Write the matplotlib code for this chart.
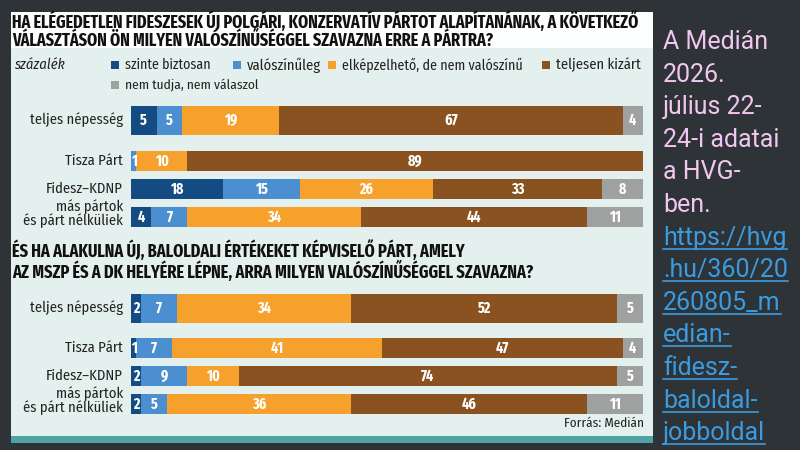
import matplotlib
matplotlib.use("Agg")
import matplotlib.pyplot as plt
from matplotlib import font_manager
from matplotlib.patches import Rectangle
from matplotlib.lines import Line2D
import numpy as np

# Adatok
kategoriak = ["szinte biztosan", "valószínűleg", "elképzelhető, de nem valószínű",
              "teljesen kizárt", "nem tudja, nem válaszol"]
szinek = ["#134b82", "#4b8fd1", "#f5a12b", "#8a5220", "#9fa0a0"]

csoportok = ["teljes népesség", "Tisza Párt", "Fidesz–KDNP", "más pártok\nés párt nélküliek"]

# 1. kérdés: új polgári, konzervatív párt
jobb_ertekek = [
    [5, 5, 19, 67, 4],
    [0, 1, 10, 89, 0],
    [18, 15, 26, 33, 8],
    [4, 7, 34, 44, 11],
]
# 2. kérdés: új baloldali párt
bal_ertekek = [
    [2, 7, 34, 52, 5],
    [1, 7, 41, 47, 4],
    [2, 9, 10, 74, 5],
    [2, 5, 36, 46, 11],
]

cim1 = ["HA ELÉGEDETLEN FIDESZESEK ÚJ POLGÁRI, KONZERVATÍV PÁRTOT ALAPÍTANÁNAK, A KÖVETKEZŐ",
        "VÁLASZTÁSON ÖN MILYEN VALÓSZÍNŰSÉGGEL SZAVAZNA ERRE A PÁRTRA?"]
cim2 = ["ÉS HA ALAKULNA ÚJ, BALOLDALI ÉRTÉKEKET KÉPVISELŐ PÁRT, AMELY",
        "AZ MSZP ÉS A DK HELYÉRE LÉPNE, ARRA MILYEN VALÓSZÍNŰSÉGGEL SZAVAZNA?"]

jegyzet = ["A Medián", "2026.", "július 22-", "24-i adatai", "a HVG-", "ben."]
link = ["https://hvg", ".hu/360/20", "260805_m", "edian-", "fidesz-", "baloldal-", "jobboldal"]


def van_font(nev):
    try:
        font_manager.findfont(nev, fallback_to_default=False)
        return True
    except Exception:
        return False


def elso(jeloltek, alap="DejaVu Sans"):
    return next((n for n in jeloltek if van_font(n)), alap)


keskeny = dict(family=elso(["Fira Sans Condensed", "Roboto Condensed", "Barlow Semi Condensed",
                            "PT Sans Narrow", "Archivo Narrow", "Liberation Sans Narrow"]))
cim_font = dict(family=elso(["Fira Sans Extra Condensed", "Fira Sans Condensed",
                             "Roboto Condensed", "Barlow Condensed", "PT Sans Narrow",
                             "Liberation Sans Narrow"]))
jobb_font = elso(["Roboto"])

W, H = 800, 450
fig = plt.figure(figsize=(8, 4.5), dpi=100, facecolor="#2d3336")
r = fig.canvas.get_renderer()


def fx(x):
    return x / W


def fy(y):
    return 1 - y / H


def doboz(x0, y0, x1, y1, szin, z=0):
    fig.patches.append(Rectangle((fx(x0), fy(y1)), fx(x1 - x0), (y1 - y0) / H,
                                 transform=fig.transFigure, facecolor=szin,
                                 edgecolor="none", zorder=z))


def illeszt(t, szelesseg, csak_kicsinyit=True):
    """ A szöveg betűméretét a kívánt szélességhez igazítja """
    bb = t.get_window_extent(r)
    if bb.width > szelesseg or not csak_kicsinyit:
        t.set_fontsize(t.get_fontsize() * szelesseg / bb.width)


# Panel hátterek
doboz(11, 12, 653, 436, "#e4f0ee")
doboz(11, 12, 653, 48, "#fdfefe")
doboz(11, 436, 653, 443, "#4fa3a5")

# Címek: a leghosszabb sor szélességéhez igazított betűméret, két soros szöveg
for sorok, y, szel in [(cim1, 30, 629), (cim2, 260.5, 521)]:
    t = fig.text(fx(12), fy(y), "\n".join(sorok), fontsize=12, fontweight="bold",
                 color="#111111", va="center", ha="left", linespacing=1.0, **cim_font)
    illeszt(t, szel, csak_kicsinyit=False)

# Jelmagyarázat
fig.text(fx(14), fy(65), "százalék", fontsize=10.5, style="italic",
         color="#222222", va="center", **keskeny)
jel_pos = [(111, 65), (233, 65), (328, 65), (542, 65), (111, 85)]
jel_szel = [86, 78, 180, 87, 133]
for (x, y), nev, c, sz in zip(jel_pos, kategoriak, szinek, jel_szel):
    doboz(x, y - 4, x + 8, y + 4, c)
    t = fig.text(fx(x + 14), fy(y), nev, fontsize=10.5, color="#222222",
                 va="center", **keskeny)
    illeszt(t, sz)

# Oszlopok
ax = fig.add_axes([fx(131), fy(425), fx(643) - fx(131), (425 - 95) / H])
ax.set_zorder(3)
ax.set_xlim(0, 100)
ax.set_ylim(425, 95)
ax.axis("off")

sor_y1 = [120, 161, 189, 217]
sor_y2 = [308, 348, 376, 404]
vastag = [29, 20, 20, 20]

for ertekek, sor_y in [(jobb_ertekek, sor_y1), (bal_ertekek, sor_y2)]:
    adat = np.array(ertekek)
    bal = np.zeros(len(adat))
    for k in range(adat.shape[1]):
        v = adat[:, k]
        ax.barh(sor_y, v, left=bal, height=vastag, color=szinek[k], edgecolor="none")
        for y, b, e in zip(sor_y, bal, v):
            if e > 0:
                ax.text(b + e / 2, y + 0.5, str(e), ha="center", va="center",
                        color="white", fontsize=11, fontweight="bold", **cim_font)
        bal = bal + v
    for y, nev in zip(sor_y, csoportok):
        ax.text(-1.6, y - (3 if "\n" in nev else 0), nev, ha="right", va="center",
                fontsize=10.5, color="#222222", linespacing=0.95, **keskeny)

fig.text(fx(644), fy(423), "Forrás: Medián", fontsize=9.5, color="#222222",
         ha="right", va="center", **keskeny)

# Jobb oldali szöveg
sorkoz = 32.6
szovegek = []
for i, sor in enumerate(jegyzet):
    fig.text(fx(663), fy(30 + i * sorkoz), sor, fontsize=18, family=jobb_font,
             color="#f2c6f0", ha="left", va="top")
for j, sor in enumerate(link):
    i = j + len(jegyzet)
    t = fig.text(fx(663), fy(30 + i * sorkoz), sor, fontsize=18, family=jobb_font,
                 color="#3b9be0", ha="left", va="top")
    szovegek.append((t, 30 + i * sorkoz))

fig.canvas.draw()
for t, y in szovegek:
    bb = t.get_window_extent(r)
    ya = fy(y + 23)
    fig.lines.append(Line2D([bb.x0 / W, bb.x1 / W], [ya, ya], transform=fig.transFigure,
                            color="#3b9be0", lw=1.2))

fig.savefig("out.png", dpi=100, facecolor=fig.get_facecolor())
